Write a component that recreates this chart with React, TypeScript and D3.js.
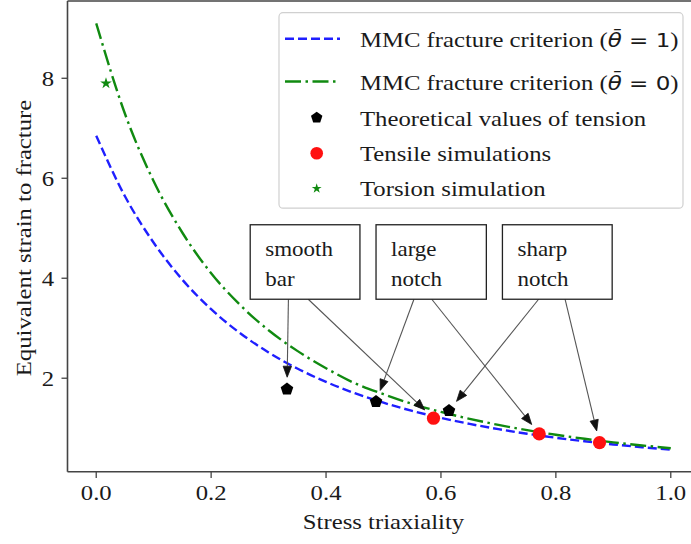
import React from 'react';
import * as d3 from 'd3';

// ---------- data ----------
const etaGrid = [0, 0.05, 0.1, 0.15, 0.2, 0.25, 0.3, 0.35, 0.4, 0.45, 0.5, 0.55, 0.6, 0.65, 0.7, 0.75, 0.8, 0.85, 0.9, 0.95, 1.0];
const mmcTheta1 = [6.85, 5.64, 4.71, 3.97, 3.38, 2.905, 2.516, 2.194, 1.926, 1.701, 1.51, 1.346, 1.207, 1.086, 0.981, 0.889, 0.809, 0.738, 0.675, 0.62, 0.57];
const mmcTheta0 = [9.1, 7.29, 5.94, 4.91, 4.1, 3.47, 2.959, 2.547, 2.2, 1.9, 1.68, 1.485, 1.325, 1.187, 1.066, 0.961, 0.869, 0.788, 0.717, 0.655, 0.6];
const theoryX = [0.332, 0.487, 0.614];
const theoryY = [1.78, 1.53, 1.35];
const tensileX = [0.587, 0.771, 0.876];
const tensileY = [1.2, 0.886, 0.712];
const torsionX = [0.017];
const torsionY = [7.9];
const xTicks = [0, 0.2, 0.4, 0.6, 0.8, 1.0];
const xTickLabels = ['0.0', '0.2', '0.4', '0.6', '0.8', '1.0'];
const yTicks = [2, 4, 6, 8];
const yTickLabels = ['2', '4', '6', '8'];
const annLabels = [['smooth', 'bar'], ['large', 'notch'], ['sharp', 'notch']];
const annTargets = [
  [['theory', 0], ['tensile', 0]],
  [['theory', 1], ['tensile', 1]],
  [['theory', 2], ['tensile', 2]],
];
const legendLabels = [
  'MMC fracture criterion (',
  'MMC fracture criterion (',
  'Theoretical values of tension',
  'Tensile simulations',
  'Torsion simulation',
];
const legendMath = ['1', '0'];

// ---------- layout ----------
const W = 691, H = 544;
const SX = 1.15;
const FS = 21.5;
const SERIF = '"Liberation Serif", "Times New Roman", serif';
const SANS = '"DejaVu Sans", sans-serif';
const annBoxLayout = [
  { x0: 0.268, x1: 0.459, yTop: 5.07, yBot: 3.58, starts: [0.3345, 0.369] },
  { x0: 0.487, x1: 0.679, yTop: 5.07, yBot: 3.58, starts: [0.553, 0.584] },
  { x0: 0.707, x1: 0.898, yTop: 5.07, yBot: 3.58, starts: [0.770, 0.816] },
];

const x = d3.scaleLinear().domain([-0.05, 1.05]).range([67.5, 699.5]);
const y = d3.scaleLinear().domain([0.13, 9.546]).range([471.7, 1]);

function pentagon(cx: number, cy: number, r: number) {
  const pts: [number, number][] = d3.range(5).map((k) => {
    const a = -Math.PI / 2 + (k * 2 * Math.PI) / 5;
    return [cx + r * Math.cos(a), cy + r * Math.sin(a)];
  });
  return d3.line()(pts) + 'Z';
}

const starPath = d3.symbol(d3.symbolStar, 42)();

function SText(props: any) {
  const { x: tx, y: ty, rotate = 0, anchor = 'start', size = FS, children, family = SERIF } = props;
  return (
    <text
      transform={`translate(${tx},${ty}) rotate(${rotate}) scale(${SX},1)`}
      textAnchor={anchor}
      fontFamily={family}
      fontSize={size}
      fill="#1a1a1a"
    >
      {children}
    </text>
  );
}

export default function App() {
  const line1 = d3.line<number>().x((_, i) => x(etaGrid[i])).y((d) => y(d)).curve(d3.curveMonotoneX);
  const pts = {
    theory: theoryX.map((v, i) => [x(v), y(theoryY[i])]),
    tensile: tensileX.map((v, i) => [x(v), y(tensileY[i])]),
  } as Record<string, number[][]>;

  const arrows: any[] = [];
  annBoxLayout.forEach((b, bi) => {
    b.starts.forEach((sx, k) => {
      const [kind, idx] = annTargets[bi][k] as [string, number];
      const [tx, ty] = pts[kind][idx];
      const x0 = x(sx), y0 = y(b.yBot);
      const dx = tx - x0, dy = ty - y0;
      const len = Math.hypot(dx, dy);
      const ux = dx / len, uy = dy / len;
      const shrink = 12;
      const ex = tx - ux * shrink, ey = ty - uy * shrink;
      const hl = 11, hw = 4.2;
      const bx = ex - ux * hl, by = ey - uy * hl;
      arrows.push({ x0, y0, ex, ey, bx, by, head: `M${ex},${ey}L${bx - uy * hw},${by + ux * hw}L${bx + uy * hw},${by - ux * hw}Z` });
    });
  });

  const legX0 = 279, legY0 = 12.7, legW = 404, legH = 195.5;
  const legBase = [47.3, 90, 126, 160.7, 196];
  const legHandleY = [38.8, 81.5, 117.7, 153.3, 188.5];
  const hx0 = 285, hx1 = 340, hmx = 316.7, ltx = 360;

  return (
    <svg width={W} height={H} style={{ position: 'fixed', left: 0, top: 0, background: '#fff' }}>
      <rect width={W} height={H} fill="#fff" />
      {/* curves */}
      <path d={line1(mmcTheta1) || ''} fill="none" stroke="#1f1fff" strokeWidth={2.4} strokeDasharray="9 4" />
      <path d={line1(mmcTheta0) || ''} fill="none" stroke="#108a10" strokeWidth={2.4} strokeDasharray="16 4.5 2.5 4.5" />
      {/* arrows */}
      {arrows.map((a, i) => (
        <g key={'ar' + i}>
          <line x1={a.x0} y1={a.y0} x2={a.bx} y2={a.by} stroke="#555" strokeWidth={1.1} />
          <path d={a.head} fill="#111" stroke="#111" strokeWidth={0.8} />
        </g>
      ))}
      {/* markers */}
      {theoryX.map((v, i) => (
        <path key={'th' + i} d={pentagon(x(v), y(theoryY[i]), 6.6)} fill="#000" />
      ))}
      {tensileX.map((v, i) => (
        <circle key={'te' + i} cx={x(v)} cy={y(tensileY[i])} r={6.6} fill="#ff1010" />
      ))}
      {torsionX.map((v, i) => (
        <path key={'to' + i} d={starPath || ''} transform={`translate(${x(v)},${y(torsionY[i])})`} fill="#108a10" />
      ))}
      {/* annotation boxes */}
      {annBoxLayout.map((b, i) => (
        <g key={'ab' + i}>
          <rect x={x(b.x0)} y={y(b.yTop)} width={x(b.x1) - x(b.x0)} height={y(b.yBot) - y(b.yTop)} fill="#fff" stroke="#222" strokeWidth={1.3} />
          <SText x={x(b.x0) + 15} y={y(b.yTop) + 31.5} size={20}>{annLabels[i][0]}</SText>
          <SText x={x(b.x0) + 15} y={y(b.yTop) + 61.5} size={20}>{annLabels[i][1]}</SText>
        </g>
      ))}
      {/* spines */}
      <g stroke="#444" strokeWidth={1.6} fill="none">
        <line x1={67.5} y1={1} x2={67.5} y2={471.7} />
        <line x1={67.5} y1={471.7} x2={699.5} y2={471.7} />
        <line x1={67.5} y1={1} x2={699.5} y2={1} />
      </g>
      {/* ticks */}
      {xTicks.map((t, i) => (
        <g key={'xt' + i}>
          <line x1={x(t)} x2={x(t)} y1={471.7} y2={478} stroke="#444" strokeWidth={1.3} />
          <SText x={x(t)} y={500} anchor="middle">{xTickLabels[i]}</SText>
        </g>
      ))}
      {yTicks.map((t, i) => (
        <g key={'yt' + i}>
          <line x1={61.5} x2={67.5} y1={y(t)} y2={y(t)} stroke="#444" strokeWidth={1.3} />
          <SText x={54} y={y(t) + 7.3} anchor="end">{yTickLabels[i]}</SText>
        </g>
      ))}
      <SText x={383.5} y={529} anchor="middle">Stress triaxiality</SText>
      <SText x={30.5} y={238} anchor="middle" rotate={-90}>Equivalent strain to fracture</SText>
      {/* legend */}
      <rect x={legX0} y={legY0} width={legW} height={legH} rx={4} fill="#fff" fillOpacity={0.85} stroke="#d0d0d0" strokeWidth={1.2} />
      <line x1={hx0} x2={hx1} y1={legHandleY[0]} y2={legHandleY[0]} stroke="#1f1fff" strokeWidth={2.4} strokeDasharray="9 4" />
      <line x1={hx0} x2={hx1} y1={legHandleY[1]} y2={legHandleY[1]} stroke="#108a10" strokeWidth={2.4} strokeDasharray="16 4.5 2.5 4.5" />
      <path d={pentagon(hmx, legHandleY[2], 6)} fill="#000" />
      <circle cx={hmx} cy={legHandleY[3]} r={6.3} fill="#ff1010" />
      <path d={starPath || ''} transform={`translate(${hmx},${legHandleY[4]}) scale(0.85)`} fill="#108a10" />
      {legendLabels.map((lab, i) => (
        <SText key={'lg' + i} x={ltx} y={legBase[i]}>
          {lab}
          {i < 2 ? (
            <>
              <tspan fontFamily={SANS} fontStyle="italic" fontSize={20}>θ̄</tspan>
              <tspan fontFamily={SANS} fontSize={20}>{' = ' + legendMath[i]}</tspan>
              <tspan>)</tspan>
            </>
          ) : null}
        </SText>
      ))}
    </svg>
  );
}
